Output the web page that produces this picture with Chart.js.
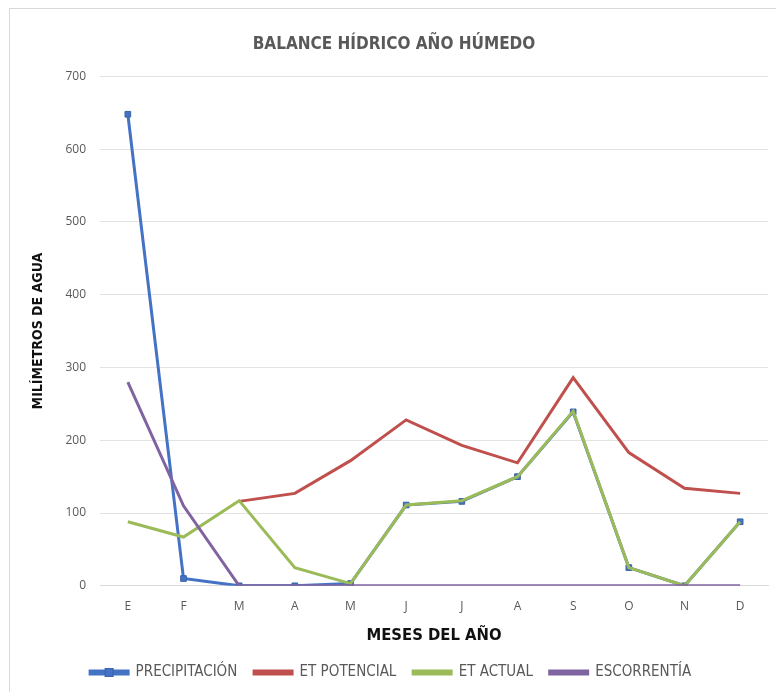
<!DOCTYPE html>
<html>
<head>
<meta charset="utf-8">
<script src="https://cdn.jsdelivr.net/npm/chart.js@4/dist/chart.umd.min.js"></script>
<style>
  html, body { margin: 0; padding: 0; background: #fff; }
  #wrap { position: relative; width: 776px; height: 692px; }
  #frame { position: absolute; left: 9px; top: 8px; right: -2px; bottom: -2px; border: 1px solid #d9d9d9; }
  canvas { position: absolute; left: 0; top: 0; }
</style>
</head>
<body>
<div id="wrap">
  <div id="frame"></div>
  <canvas id="chart" width="776" height="692"></canvas>
</div>
<script>
// ── data ─────────────────────────────────────────
const months        = ['E', 'F', 'M', 'A', 'M', 'J', 'J', 'A', 'S', 'O', 'N', 'D'];
const precipitacion = [648, 10, 0, 0, 3, 111, 116, 150, 239, 25, 0, 88];
const etPotencial   = [null, null, 116, 127, 172, 228, 193, 169, 286, 183, 134, 127];
const etActual      = [88, 67, 117, 25, 3, 111, 117, 150, 240, 25, 0, 88];
const escorrentia   = [280, 110, 0, 0, 0, 0, 0, 0, 0, 0, 0, 0];
const yTicks        = [0, 100, 200, 300, 400, 500, 600, 700];

const COND = "'Liberation Sans Narrow', 'DejaVu Sans Condensed', sans-serif";
const GREY = '#595959';

function line(label, data, color, order, marker) {
  return {
    label, data, order,
    borderColor: color, backgroundColor: color,
    borderWidth: 3, tension: 0, spanGaps: false,
    pointStyle: 'rect',
    pointRadius: marker ? 4 : 0,
    pointBorderColor: marker ? '#3a62a8' : color,
    pointBackgroundColor: color,
    pointBorderWidth: 1,
  };
}

// square marker on the precipitation legend swatch
const legendMarker = {
  id: 'legendMarker',
  afterDraw(chart) {
    const lg = chart.legend;
    if (!lg || !lg.legendHitBoxes.length) return;
    const b = lg.legendHitBoxes[0];
    const ctx = chart.ctx;
    const cx = b.left + 19, cy = b.top + b.height / 2;
    ctx.save();
    ctx.fillStyle = '#4472C4';
    ctx.strokeStyle = '#3a62a8';
    ctx.fillRect(cx - 4, cy - 4, 8, 8);
    ctx.strokeRect(cx - 4, cy - 4, 8, 8);
    ctx.restore();
  }
};

new Chart(document.getElementById('chart'), {
  type: 'line',
  data: {
    labels: months,
    datasets: [
      line('PRECIPITACIÓN', precipitacion, '#4472C4', 3, true),
      line('ET POTENCIAL',  etPotencial,   '#C0504D', 2, false),
      line('ET ACTUAL',     etActual,      '#9BBB59', 1, false),
      line('ESCORRENTÍA',   escorrentia,   '#8064A2', 0, false),
    ]
  },
  plugins: [legendMarker],
  options: {
    responsive: false,
    animation: false,
    layout: { padding: { left: 20, right: 8, top: 0, bottom: 2 } },
    plugins: {
      title: {
        display: true,
        text: 'BALANCE HÍDRICO AÑO HÚMEDO',
        color: GREY,
        font: { family: COND, size: 17, weight: 'bold' },
        padding: { top: 34, bottom: 22 }
      },
      legend: {
        position: 'bottom',
        labels: {
          sort: (a, b) => a.datasetIndex - b.datasetIndex,
          color: GREY,
          font: { family: COND, size: 15 },
          boxWidth: 38, boxHeight: 3,
          padding: 10,
          generateLabels(chart) {
            const items = Chart.defaults.plugins.legend.labels.generateLabels(chart);
            items.forEach(it => { it.text = it.text + '\u2002'; });
            return items;
          }
        }
      },
      tooltip: { enabled: false }
    },
    scales: {
      x: {
        offset: true,
        grid: { display: false },
        border: { color: '#d9d9d9' },
        ticks: { color: GREY, font: { family: "'Open Sans', sans-serif", size: 12 }, padding: 6 },
        title: {
          display: true, text: 'MESES DEL AÑO', color: '#111',
          font: { family: COND, size: 16.5, weight: 'bold' },
          padding: { top: 6, bottom: 9 }
        }
      },
      y: {
        min: 0, max: 700,
        afterFit: s => { s.width = 80; },
        afterBuildTicks: s => { s.ticks = yTicks.map(v => ({ value: v })); },
        grid: { color: '#e3e3e3', drawTicks: false },
        border: { display: false },
        ticks: { color: GREY, font: { family: "'Open Sans', sans-serif", size: 12 }, padding: 14 },
        title: {
          display: true, text: 'MILÍMETROS DE AGUA', color: '#111',
          font: { family: COND, size: 14, weight: 'bold' },
          padding: { top: 10, bottom: 4 }
        }
      }
    }
  }
});
</script>
</body>
</html>
